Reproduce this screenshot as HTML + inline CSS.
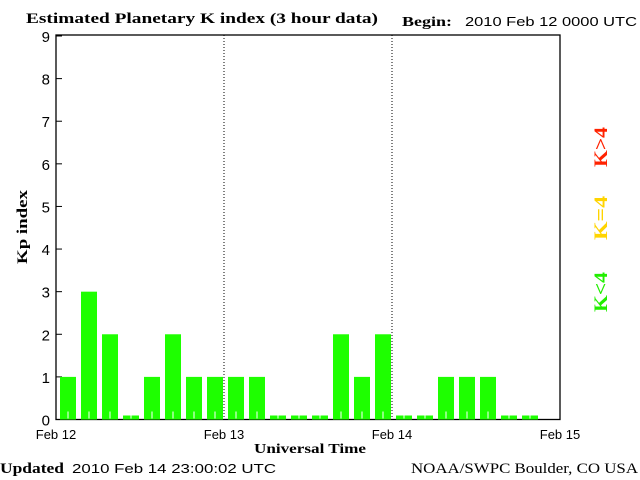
<!DOCTYPE html>
<html><head><meta charset="utf-8"><style>
body{margin:0;background:#fff;width:640px;height:480px;overflow:hidden}
svg{display:block}
.s{font-family:"Liberation Sans",sans-serif}
.r{font-family:"Liberation Serif",serif}
</style></head><body>
<svg id="c" width="640" height="480" xmlns="http://www.w3.org/2000/svg">
<text class="r" x="26" y="23" font-size="15" font-weight="bold" textLength="352" lengthAdjust="spacingAndGlyphs">Estimated Planetary K index (3 hour data)</text>
<text class="r" x="402" y="26" font-size="14" font-weight="bold" textLength="50" lengthAdjust="spacingAndGlyphs">Begin:</text>
<text class="s" x="465" y="26" font-size="13" textLength="172" lengthAdjust="spacingAndGlyphs">2010 Feb 12 0000 UTC</text>
<text class="r" x="0" y="473" font-size="15" font-weight="bold" textLength="64" lengthAdjust="spacingAndGlyphs">Updated</text>
<text class="s" x="72" y="473" font-size="13" textLength="204" lengthAdjust="spacingAndGlyphs">2010 Feb 14 23:00:02 UTC</text>
<text class="r" x="411" y="473" font-size="15" textLength="227" lengthAdjust="spacingAndGlyphs">NOAA/SWPC Boulder, CO USA</text>
<text class="r" x="310" y="453" font-size="14" font-weight="bold" text-anchor="middle" textLength="112" lengthAdjust="spacingAndGlyphs">Universal Time</text>
<text class="r" x="0" y="0" font-size="15" font-weight="bold" text-anchor="middle" textLength="74" lengthAdjust="spacingAndGlyphs" transform="translate(27,227) rotate(-90)">Kp index</text>
<text class="r" x="0" y="0" font-size="19" font-weight="bold" fill="#ff2200" text-anchor="middle" textLength="40" lengthAdjust="spacingAndGlyphs" transform="translate(607,147) rotate(-90)">K&gt;4</text>
<text class="r" x="0" y="0" font-size="19" font-weight="bold" fill="#ffd400" text-anchor="middle" textLength="44" lengthAdjust="spacingAndGlyphs" transform="translate(607,218) rotate(-90)">K=4</text>
<text class="r" x="0" y="0" font-size="19" font-weight="bold" fill="#22ee00" text-anchor="middle" textLength="40" lengthAdjust="spacingAndGlyphs" transform="translate(607,292) rotate(-90)">K&lt;4</text>
<g id="g"></g>
</svg>
<script>
const kpValues=[1,3,2,0,1,2,1,1, 1,1,0,0,0,2,1,2, 0,0,1,1,1,0,0];
const yTicks=[0,1,2,3,4,5,6,7,8,9];
const dayLabels=["Feb 12","Feb 13","Feb 14","Feb 15"];
const X0=56,X1=560,Y0=419.5,YT=35;
const slots=24;
const xs=i=>X0+(X1-X0)*i/slots;
const ys=v=>Y0-(Y0-36)*v/9;
const g=document.getElementById('g');
const NS="http://www.w3.org/2000/svg";
function mk(t,a){const e=document.createElementNS(NS,t);for(const k in a)e.setAttribute(k,a[k]);g.appendChild(e);return e;}
let fr=mk('rect',{x:X0,y:YT,width:X1-X0,height:Y0-YT,fill:'none',stroke:'#000','stroke-width':1.3});


for(let d=1;d<dayLabels.length-1;d++){
 const x=xs(d*8);
 let l=mk('line',{x1:x,y1:YT,x2:x,y2:Y0,stroke:'#000','stroke-dasharray':'1,2'});
 
 
}
dayLabels.forEach((t,d)=>{
 let e=mk('text',{x:xs(d*8),y:439,'font-size':13,'text-anchor':'middle','font-family':'Liberation Sans, sans-serif'});
 e.textContent=t;
 
 
});
yTicks.forEach(v=>{
 const y=ys(v);
 let l=mk('line',{x1:X0,y1:y,x2:X0+6,y2:y,stroke:'#000'});
 
 
 let e=mk('text',{x:50,y:y+6,'font-size':15,'text-anchor':'end','font-family':'Liberation Sans, sans-serif'});
 e.textContent=v;
 
 
});
kpValues.forEach((v,i)=>{
 const x=xs(i)+4,w=xs(i+1)-xs(i)-5;
 const top=v>0?ys(v):Y0-4;
 const col=v>4?'#ff2200':(v==4?'#ffd400':'#1eff00');
 let b=mk('rect',{x:x,y:top,width:w,height:Y0-top,fill:col});
 
 
 let t=mk('line',{x1:x+w/2,y1:v>0?Y0-8:Y0-4,x2:x+w/2,y2:Y0-1,stroke:'#fff'});
 
 
});
</script>
</body></html>
